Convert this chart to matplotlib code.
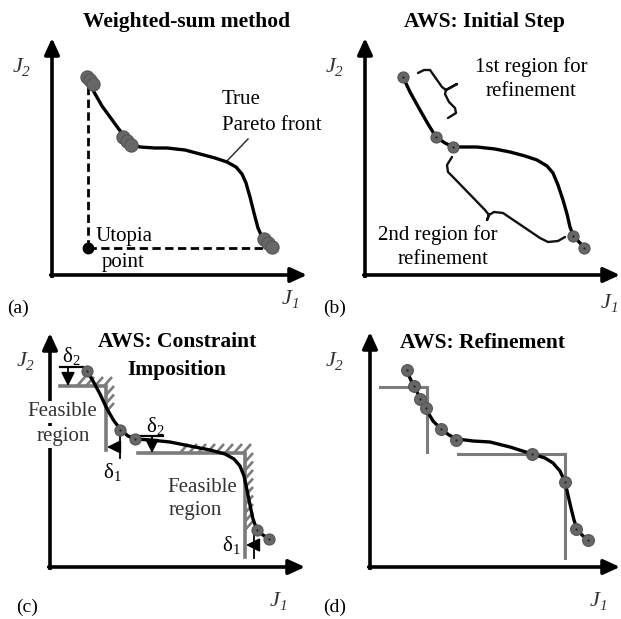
import numpy as np
import matplotlib.pyplot as plt
from matplotlib.collections import LineCollection

plt.rcParams['font.family'] = ['Liberation Serif', 'DejaVu Serif']
plt.rcParams['mathtext.fontset'] = 'custom'
plt.rcParams['mathtext.rm'] = 'Liberation Serif'
plt.rcParams['mathtext.it'] = 'Liberation Serif:italic'

# whole figure drawn on one canvas, coordinates in pixels (y grows downward)
W, H = 621, 619

# panel (a) weighted-sum
a_curve_x = [87, 94, 102, 110, 118, 125, 132, 140, 155, 167, 185, 200, 215, 227, 236, 242, 246, 250, 254, 258, 262, 267, 271]
a_curve_y = [78, 92, 106, 117, 128, 137, 144, 147, 148, 148, 150, 154, 158, 162, 167, 174, 183, 197, 213, 228, 237, 243, 247]
a_dots_x = [87, 90, 93, 123, 127, 131, 264, 268, 272]
a_dots_y = [77, 80, 84, 137, 141, 145, 239, 243, 247]
utopia = (88, 248)

# panel (b) initial step
b_curve_x = [403, 410, 420, 428, 436, 445, 453, 465, 477, 495, 510, 525, 537, 547, 553, 558, 563, 567, 570, 573, 579, 584]
b_curve_y = [77, 92, 110, 124, 137, 143, 147, 147, 147, 149, 152, 156, 160, 166, 173, 185, 200, 214, 227, 235, 242, 247]
b_dots_x = [403, 436, 453, 573, 584]
b_dots_y = [77, 137, 147, 236, 248]
# curly braces marking the two refinement regions
brace1_x = [418, 424, 430, 442, 446, 457, 446, 445, 449, 455, 456, 448]
brace1_y = [73, 70, 70, 87, 90, 84, 90, 94, 102, 108, 113, 118]
brace2_x = [452, 447, 448, 453, 485, 489, 487, 489, 494, 503, 540, 548, 558, 565]
brace2_y = [157, 165, 172, 177, 210, 215, 220, 215, 212, 213, 238, 242, 241, 237]

# panel (c) constraint imposition
c_curve_x = [87, 93, 100, 107, 114, 121, 128, 135, 150, 170, 190, 210, 225, 234, 240, 244, 247, 250, 253, 257, 263, 269]
c_curve_y = [371, 381, 394, 409, 421, 430, 436, 439, 440, 442, 446, 450, 454, 459, 466, 476, 490, 505, 519, 530, 535, 539]
c_dots_x = [87, 120, 135, 257, 269]
c_dots_y = [371, 430, 439, 530, 539]
# constraint corners: (x_start, y_corner, x_corner, y_end)
c_constraints = [(60, 386, 106, 450), (138, 453, 245, 557)]

# panel (d) refinement
d_curve_x = [406, 410, 413, 417, 420, 426, 433, 441, 449, 457, 473, 490, 510, 532, 545, 553, 560, 565, 568, 571, 574, 577, 582, 588]
d_curve_y = [370, 378, 385, 392, 398, 409, 421, 429, 435, 439, 441, 442, 447, 454, 458, 463, 471, 482, 495, 508, 520, 529, 535, 540]
d_dots_x = [407, 414, 420, 426, 441, 456, 532, 565, 576, 588]
d_dots_y = [370, 386, 399, 408, 429, 440, 454, 482, 529, 540]
d_constraints = [(380, 387, 427, 452), (458, 454, 565, 558)]

# axis frames: origin, top of y axis, end of x axis
frames = [((52, 275), 38, 307), ((365, 275), 38, 620), ((50, 567), 333, 305), ((370, 567), 332, 620)]

GRAY = '#7b7b7b'
DOT = '#676767'

fig = plt.figure(figsize=(W / 100, H / 100), dpi=100)
ax = fig.add_axes([0, 0, 1, 1])
ax.set_xlim(0, W)
ax.set_ylim(H, 0)
ax.axis('off')


def arrow(p0, p1, lw=2.6, scale=14, hl=0.7, hw=0.32, color='black', z=3):
    ax.annotate('', xy=p1, xytext=p0,
                arrowprops=dict(arrowstyle=f'-|>,head_length={hl},head_width={hw}',
                                lw=lw, color=color, shrinkA=0, shrinkB=0,
                                mutation_scale=scale), zorder=z)


def dots(xs, ys, ms=8.5, center=True):
    ax.plot(xs, ys, 'o', ms=ms, color=DOT, mec='#555555', mew=0.8, zorder=5)
    if center:
        ax.plot(xs, ys, 'o', ms=1.6, color='#222222', mew=0, zorder=6)


def hatch(y, xc, start_x, end_y):
    segs = []
    for xs in np.arange(start_x, xc + 1, 9):
        segs.append([(xs, y), (xs + 8, y - 9)])
    for ys in np.arange(y + 9, end_y, 8.5):
        segs.append([(xc, ys), (xc + 8, ys - 9)])
    ax.add_collection(LineCollection(segs, colors=GRAY, lw=1.9, zorder=2))


def constraint(xa, y, xc, yb, lw=2.6):
    ax.plot([xa, xc, xc], [y, y, yb], color=GRAY, lw=lw, solid_joinstyle='miter', zorder=2)


def jlabel(x, y, sub):
    ax.text(x - 3, y, 'J', ha='center', va='center', fontsize=16, style='italic', color='#333333')
    ax.text(x + 5, y + 5, sub, ha='center', va='center', fontsize=11, style='italic', color='#333333')


# axes with arrows
for (ox, oy), ytop, xend in frames:
    ax.plot([ox, ox], [oy + 1, oy], color='black', lw=2.6)
    arrow((ox, oy + 1.3), (ox, ytop))
    arrow((ox - 1.3, oy), (xend, oy))

TS = 15
tkw = dict(ha='center', va='center', fontsize=TS)
bkw = dict(ha='center', va='center', fontsize=15.5, fontweight='bold')
# titles
ax.text(187, 22, 'Weighted-sum method', **bkw)
ax.text(484, 22, 'AWS: Initial Step', **bkw)
ax.text(177, 342, 'AWS: Constraint', **bkw)
ax.text(177, 370, 'Imposition', **bkw)
ax.text(483, 343, 'AWS: Refinement', **bkw)

# axis labels and panel letters
for x, y in [(21, 67), (334, 67), (25, 362), (334, 362)]:
    jlabel(x, y, '2')
for x, y in [(290, 300), (609, 304), (278, 602), (598, 602)]:
    jlabel(x, y, '1')
for x, y, s in [(18, 308, '(a)'), (335, 308, '(b)'), (27, 607, '(c)'), (335, 607, '(d)')]:
    ax.text(x, y, s, ha='center', va='center', fontsize=14)

# panel (a)
ax.plot([utopia[0], utopia[0]], [utopia[1], 82], color='black', lw=2.0, ls=(0, (3, 1.6)), zorder=3)
ax.plot([utopia[0], 268], [utopia[1], utopia[1]], color='black', lw=2.0, ls=(0, (3, 1.6)), zorder=3)
ax.plot(a_curve_x, a_curve_y, color='black', lw=2.4, zorder=4)
dots(a_dots_x, a_dots_y, ms=9.5, center=False)
ax.plot(*utopia, 'o', ms=7.5, color='black', zorder=6)
ax.text(96, 236, 'Utopia', ha='left', va='center', fontsize=TS)
ax.text(102, 262, 'point', ha='left', va='center', fontsize=TS)
ax.text(222, 100, 'True', ha='left', va='center', fontsize=TS)
ax.text(222, 125, 'Pareto front', ha='left', va='center', fontsize=TS)
ax.plot([248, 226], [139, 162], color='#333333', lw=1.1)

# panel (b)
ax.plot(b_curve_x, b_curve_y, color='black', lw=2.4, zorder=4)
dots(b_dots_x, b_dots_y, ms=8)
ax.text(531, 67, '1st region for', **tkw)
ax.text(531, 92, 'refinement', **tkw)
ax.text(438, 235, '2nd region for', **tkw)
ax.text(443, 260, 'refinement', **tkw)
for bx, by in [(brace1_x, brace1_y), (brace2_x, brace2_y)]:
    ax.plot(bx, by, color='#111111', lw=1.7, solid_joinstyle='round', solid_capstyle='round', zorder=4)

# panel (c)
for (xa, y, xc, yb), hs, he in zip(c_constraints, [77, 180], [420, 532]):
    constraint(xa, y, xc, yb)
    hatch(y, xc, hs, he)
ax.plot(c_curve_x, c_curve_y, color='black', lw=2.4, zorder=4)
dots(c_dots_x, c_dots_y, ms=8)
# delta markers
ax.plot([60, 83], [367, 367], color='black', lw=1.6, zorder=3)
arrow((68, 367), (68, 386), lw=1.3, scale=9, hl=0.9, hw=0.45)
ax.plot([133, 163], [436, 436], color='black', lw=1.6, zorder=3)
arrow((152, 436), (152, 453), lw=1.3, scale=9, hl=0.9, hw=0.45)
ax.plot([120, 120], [432, 458], color='black', lw=1.3, zorder=3)
arrow((120, 447), (107, 447), lw=1.3, scale=9, hl=0.9, hw=0.45)
ax.plot([254, 254], [530, 558], color='black', lw=1.3, zorder=3)
arrow((254, 545), (246, 545), lw=1.3, scale=9, hl=0.9, hw=0.45)
dkw = dict(ha='center', va='center', fontsize=TS, zorder=7)
ax.text(71, 356, 'δ$_2$', **dkw)
ax.text(155, 426, 'δ$_2$', **dkw)
ax.text(112, 472, 'δ$_1$', **dkw)
ax.text(231, 545, 'δ$_1$', **dkw)
wkw = dict(ha='center', va='center', fontsize=TS, color='#333333', zorder=3.5,
           bbox=dict(boxstyle='square,pad=0.05', fc='white', ec='none'))
ax.text(62, 412, 'Feasible', **wkw)
ax.text(63, 437, 'region', **wkw)
ax.text(202, 487, 'Feasible', **wkw)
ax.text(195, 511, 'region', **wkw)

# panel (d)
for xa, y, xc, yb in d_constraints:
    constraint(xa, y, xc, yb, lw=2.2)
ax.plot(d_curve_x, d_curve_y, color='black', lw=2.4, zorder=4)
dots(d_dots_x, d_dots_y, ms=8.5)

fig.savefig('out.png', dpi=100)
